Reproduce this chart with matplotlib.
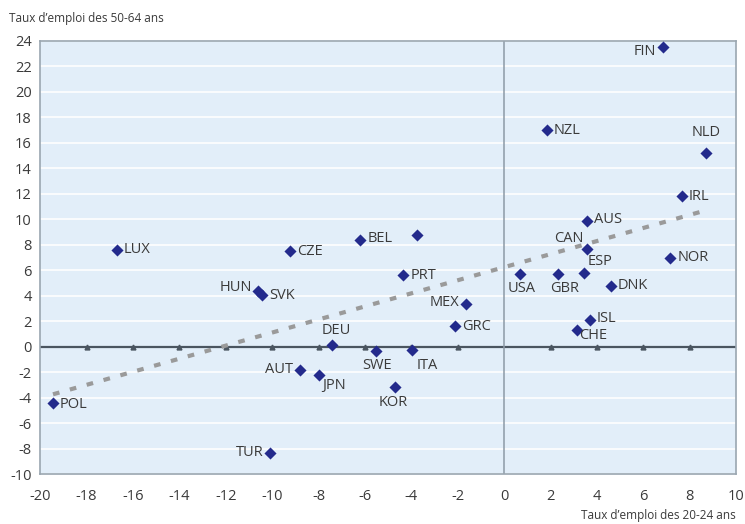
import numpy as np
import matplotlib.pyplot as plt

plt.rcParams['font.family'] = ['Open Sans', 'DejaVu Sans']
plt.rcParams['axes.unicode_minus'] = False

# variation du taux d'emploi (points de %)
countries = ['FIN', 'NZL', 'NLD', 'IRL', 'AUS', 'CAN', 'NOR', 'ESP', 'USA',
             'GBR', 'DNK', 'ISL', 'CHE', 'PRT', 'MEX', 'GRC', 'ITA', 'KOR',
             'SWE', 'DEU', 'AUT', 'JPN', 'HUN', 'SVK', 'POL', 'TUR', 'LUX',
             'CZE', 'BEL', '']
x_2024 = [6.85, 1.84, 8.69, 7.66, 3.56, 3.56, 7.16, 3.46, 0.69,
          2.31, 4.61, 3.70, 3.13, -4.34, -1.64, -2.11, -3.95, -4.70,
          -5.53, -7.40, -8.79, -7.97, -10.59, -10.44, -19.45, -10.09, -16.70,
          -9.22, -6.20, -3.76]
y_5064 = [23.5, 17.0, 15.2, 11.8, 9.9, 7.7, 7.0, 5.8, 5.7,
          5.7, 4.8, 2.1, 1.35, 5.6, 3.35, 1.6, -0.25, -3.15,
          -0.3, 0.1, -1.8, -2.25, 4.35, 4.1, -4.4, -8.3, 7.6,
          7.5, 8.4, 8.8]

# label placement: (dx, dy) in points, horizontal alignment
place = {
    'FIN': (-5, -3, 'right'), 'NZL': (5, 0, 'left'), 'NLD': (0, 15, 'center'),
    'IRL': (5, 0, 'left'), 'AUS': (5, 1, 'left'), 'CAN': (-2, 7, 'right'),
    'NOR': (5, 0, 'left'), 'ESP': (2, 8, 'left'), 'USA': (1, -10, 'center'),
    'GBR': (5, -10, 'center'), 'DNK': (5, 0, 'left'), 'ISL': (5, 1, 'left'),
    'CHE': (2, -4, 'left'), 'PRT': (5, 0, 'left'), 'MEX': (-5, 1, 'right'),
    'GRC': (5, 0, 'left'), 'ITA': (3, -11, 'left'), 'KOR': (-1, -11, 'center'),
    'SWE': (1, -11, 'center'), 'DEU': (3, 11, 'center'), 'AUT': (-5, 0, 'right'),
    'JPN': (2, -7, 'left'), 'HUN': (-5, 3, 'right'), 'SVK': (5, -1, 'left'),
    'POL': (5, -1, 'left'), 'TUR': (-5, 0, 'right'), 'LUX': (5, 0, 'left'),
    'CZE': (5, 0, 'left'), 'BEL': (5, 1, 'left'),
}

txt = '#3a3a3a'
fig = plt.figure(figsize=(7.45, 5.24), dpi=100)
ax = fig.add_axes([0.054, 0.095, 0.934, 0.827])
ax.set_facecolor('#e2eef9')

ax.set_xlim(-20, 10)
ax.set_ylim(-10, 24)
ax.set_xticks(range(-20, 11, 2))
ax.set_yticks(range(-10, 25, 2))
ax.tick_params(length=0, labelsize=10.5, colors=txt, pad=6)
ax.tick_params(axis='x', pad=11)
ax.grid(axis='y', color='white', lw=1.3, alpha=0.9)
ax.set_axisbelow(True)
for s in ax.spines.values():
    s.set_color('#9aa6b0')
    s.set_linewidth(1.2)

ax.axhline(0, color='#4a5560', lw=1.6, zorder=2)
ax.axvline(0, color='#8c9aa6', lw=1.1, zorder=2)
ticks = [t for t in range(-18, 10, 2) if t != 0]
ax.plot(ticks, [0] * len(ticks), ls='none', marker='^', ms=3.5,
        color='#4a5560', zorder=2)

# tendance
a, b = np.polyfit(x_2024, y_5064, 1)
xs = np.array([min(x_2024), max(x_2024)])
ax.plot(xs, a * xs + b, color='#9a9a9a', lw=3, ls=(0, (1.6, 2.6)), zorder=3)

ax.scatter(x_2024, y_5064, marker='D', s=38, color='#232a8c', zorder=4,
           linewidths=0)
for c, xv, yv in zip(countries, x_2024, y_5064):
    if not c:
        continue
    dx, dy, ha = place[c]
    ax.annotate(c, (xv, yv), xytext=(dx, dy), textcoords='offset points',
                ha=ha, va='center', fontsize=10.5, color=txt, zorder=5)

fig.text(0.012, 0.978, 'Taux d\u2019emploi des 50-64 ans', fontsize=8.5,
         color=txt, va='top', ha='left')
fig.text(0.988, 0.003, 'Taux d\u2019emploi des 20-24 ans', fontsize=8.5,
         color=txt, va='bottom', ha='right')

fig.savefig('out.png', dpi=100)
